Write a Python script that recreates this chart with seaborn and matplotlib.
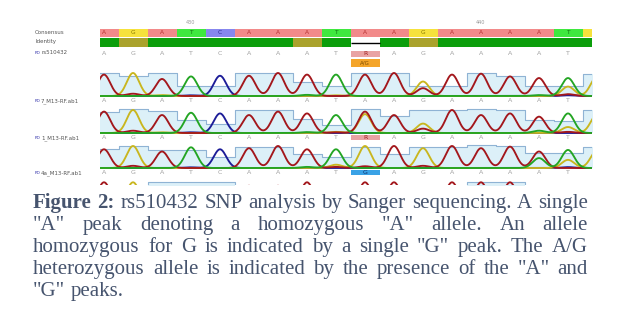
import numpy as np
import pandas as pd
import matplotlib
matplotlib.use("Agg")
import matplotlib.pyplot as plt
import seaborn as sns

# ---------------- data ----------------
consensus = list("AGATCAAATAAGAAAATG")          # 18 columns, last one only partly visible
identity = ["full", "partial", "full", "full", "full", "full", "full", "partial", "full",
            "gap", "full", "partial", "full", "full", "full", "full", "full", "full"]
ref_calls = list("AGATCAAATRAGAAAAT")            # rs510432 reference row
snp_index = 9
snp_alleles = "A/G"
ruler_pos = [3, 13]
ruler_labels = ["430", "440"]

track_names = ["7_M13-RF.ab1", "1_M13-RF.ab1", "4a_M13-RF.ab1"]
track1_calls = list("AGATCAAATAAGAAAAT")
track2_calls = list("AGATCAAATRAGAAAAT")
track3_calls = list("AGATCAAATGAGAAAAT")

# peak heights per position for each channel (A, G, T, C) and quality bars
t1_A = [0.93, 0.10, 0.74, 0.00, 0.00, 0.88, 1.00, 0.93, 0.00, 0.93, 1.00, 0.34, 0.93, 0.97, 0.85, 0.78, 0.08, 0.00]
t1_G = [0.00, 1.00, 0.04, 0.00, 0.00, 0.00, 0.00, 0.00, 0.03, 0.00, 0.00, 0.63, 0.00, 0.00, 0.00, 0.00, 0.41, 0.85]
t1_T = [0.00, 0.00, 0.00, 0.85, 0.00, 0.00, 0.00, 0.05, 0.93, 0.00, 0.00, 0.00, 0.00, 0.00, 0.00, 0.04, 0.78, 0.00]
t1_C = [0.00, 0.00, 0.00, 0.03, 0.88, 0.00, 0.00, 0.00, 0.00, 0.00, 0.00, 0.00, 0.00, 0.00, 0.00, 0.00, 0.03, 0.00]
t1_Q = [1.00, 0.88, 1.00, 0.44, 0.44, 1.00, 1.00, 0.60, 0.44, 1.00, 1.00, 0.44, 0.44, 1.00, 0.85, 0.44, 0.44, 0.95]

t2_A = [0.93, 0.10, 0.78, 0.00, 0.00, 0.78, 0.93, 0.85, 0.03, 0.93, 0.78, 0.19, 1.00, 0.78, 0.85, 0.71, 0.05, 0.00]
t2_G = [0.00, 1.00, 0.03, 0.00, 0.00, 0.00, 0.00, 0.00, 0.05, 0.82, 0.00, 0.41, 0.00, 0.00, 0.00, 0.00, 0.26, 0.80]
t2_T = [0.00, 0.00, 0.00, 0.88, 0.00, 0.00, 0.00, 0.04, 0.78, 0.00, 0.00, 0.00, 0.00, 0.00, 0.00, 0.10, 0.85, 0.00]
t2_C = [0.00, 0.00, 0.00, 0.03, 0.85, 0.00, 0.00, 0.00, 0.00, 0.00, 0.00, 0.00, 0.00, 0.00, 0.00, 0.00, 0.00, 0.00]
t2_Q = [0.90, 1.05, 0.95, 0.56, 0.41, 1.00, 1.00, 0.60, 0.35, 1.05, 0.75, 1.00, 1.00, 1.05, 1.00, 0.56, 0.50, 1.00]

t3_A = [0.85, 0.10, 0.75, 0.00, 0.00, 0.90, 1.00, 0.85, 0.05, 0.08, 1.00, 0.10, 1.00, 0.90, 0.97, 0.75, 0.00, 0.00]
t3_G = [0.00, 1.00, 0.00, 0.00, 0.00, 0.00, 0.00, 0.00, 0.15, 1.00, 0.00, 0.90, 0.00, 0.00, 0.00, 0.00, 0.37, 0.80]
t3_T = [0.00, 0.00, 0.00, 0.94, 0.00, 0.00, 0.00, 0.05, 0.85, 0.00, 0.00, 0.00, 0.00, 0.00, 0.00, 0.45, 0.82, 0.00]
t3_C = [0.00, 0.00, 0.00, 0.03, 0.85, 0.00, 0.00, 0.00, 0.00, 0.00, 0.00, 0.00, 0.00, 0.00, 0.00, 0.00, 0.04, 0.00]
t3_Q = [0.85, 1.00, 0.82, 0.82, 0.52, 0.97, 0.97, 0.63, 0.52, 0.97, 0.64, 0.97, 0.97, 1.05, 1.00, 0.67, 0.67, 0.94]

t4_A = [1.00, 0.05, 0.80, 0.00, 0.00, 0.85, 0.85, 1.00, 0.00, 1.00, 1.00, 0.10, 1.00, 1.00, 1.00, 0.80, 0.00, 0.00]
t4_G = [0.00, 1.00, 0.00, 0.00, 0.00, 0.00, 0.00, 0.00, 0.00, 0.00, 0.00, 0.80, 0.00, 0.00, 0.00, 0.00, 0.30, 0.80]
t4_T = [0.00, 0.00, 0.00, 0.80, 0.00, 0.00, 0.00, 0.00, 0.80, 0.00, 0.00, 0.00, 0.00, 0.00, 0.00, 0.00, 0.80, 0.00]
t4_C = [0.00, 0.00, 0.00, 0.00, 0.80, 0.00, 0.00, 0.00, 0.00, 0.00, 0.00, 0.00, 0.00, 0.00, 0.00, 0.00, 0.00, 0.00]
t4_Q = [0.80, 0.80, 1.00, 1.00, 1.00, 0.80, 0.80, 0.80, 0.80, 0.80, 0.80, 0.80, 0.80, 1.02, 1.02, 0.80, 0.80, 0.80]

caption_lines = [
    [("Figure", True), ("2:", True), ("rs510432", False), ("SNP", False), ("analysis", False), ("by", False),
     ("Sanger", False), ("sequencing.", False), ("A", False), ("single", False)],
    [('"A"', False), ("peak", False), ("denoting", False), ("a", False), ("homozygous", False), ('"A"', False),
     ("allele.", False), ("An", False), ("allele", False)],
    [("homozygous", False), ("for", False), ("G", False), ("is", False), ("indicated", False), ("by", False),
     ("a", False), ("single", False), ('"G"', False), ("peak.", False), ("The", False), ("A/G", False)],
    [("heterozygous", False), ("allele", False), ("is", False), ("indicated", False), ("by", False), ("the", False),
     ("presence", False), ("of", False), ("the", False), ('"A"', False), ("and", False)],
    [('"G"', False), ("peaks.", False)],
]

# ---------------- style ----------------
sns.set_theme(style="white")
plt.rcParams["font.family"] = ["DejaVu Sans"]

W, H = 625, 322
fig = plt.figure(figsize=(W / 100, H / 100), dpi=100)
fig.patch.set_facecolor("white")

XL, XR = 100, 592
def px_axes(top, bottom):
    return fig.add_axes([XL / W, 1 - bottom / H, (XR - XL) / W, (bottom - top) / H])

xlim = ((XL - 104) / 29.0, (XR - 104) / 29.0)

cons_colors = {"A": "#f28a8a", "G": "#f6e23c", "T": "#3fe83f", "C": "#8787ee"}
cons_text = {"A": "#b53030", "G": "#8a7a00", "T": "#107010", "C": "#2a2a90"}
ident_colors = {"full": "#0b9e0b", "partial": "#aaa22c", "gap": "#ffffff"}
trace_colors = {"A": "#a3171c", "G": "#c9b61e", "T": "#23a523", "C": "#1c1c98"}

# ---------------- header ----------------
hax = px_axes(14, 70)
hax.set_xlim(*xlim)
hax.set_ylim(70, 14)
hax.axis("off")
pos = np.arange(len(consensus))
hax.bar(pos, 7.5, bottom=29, width=1.0, color=[cons_colors[b] for b in consensus], linewidth=0)
for i, b in enumerate(consensus):
    if xlim[0] <= i <= xlim[1]:
        hax.text(i, 32.9, b, ha="center", va="center", fontsize=4.2, color=cons_text[b])
hax.bar(pos, 8.5, bottom=38, width=1.0, color=[ident_colors[k] for k in identity], linewidth=0)
for i, k in enumerate(identity):
    if k == "gap":
        hax.hlines(42.8, i - 0.5, i + 0.5, color="black", lw=1.0)
for p, lab in zip(ruler_pos, ruler_labels):
    hax.text(p, 22, lab, ha="center", va="center", fontsize=3.6, color="#999999")
for i, b in enumerate(ref_calls):
    if i == snp_index:
        hax.bar(i, 6.5, bottom=50.5, width=1.0, color="#e9a3a3", linewidth=0)
        hax.text(i, 53.8, b, ha="center", va="center", fontsize=4.5, color="#a02020")
        hax.bar(i, 7.5, bottom=59, width=1.0, color="#f4a52a", linewidth=0)
        hax.text(i, 62.8, snp_alleles, ha="center", va="center", fontsize=4.0, color="#7a4a00")
    else:
        hax.text(i, 53.5, b, ha="center", va="center", fontsize=4.5, color="#a0a0a0")

fig.text(35 / W, 1 - 32.5 / H, "Consensus", fontsize=4.0, color="#555555", va="center")
fig.text(35 / W, 1 - 41.5 / H, "Identity", fontsize=4.0, color="#555555", va="center")
fig.text(35 / W, 1 - 53 / H, "FD", fontsize=3.2, color="#3333aa", va="center")
fig.text(41 / W, 1 - 53 / H, "rs510432", fontsize=4.0, color="#555555", va="center")

# ---------------- chromatogram tracks ----------------
grid = np.linspace(-0.3, 17.2, 900)
sigma = 0.215

def trace_frame(channels):
    rows = []
    for ch, heights in channels.items():
        sig = np.zeros_like(grid)
        for i, h in enumerate(heights):
            sig += h * np.exp(-0.5 * ((grid - i) / sigma) ** 2)
        rows.append(pd.DataFrame({"pos": grid, "signal": sig, "channel": ch}))
    return pd.concat(rows, ignore_index=True)

tracks = [
    dict(ch={"A": t1_A, "G": t1_G, "T": t1_T, "C": t1_C}, q=t1_Q, calls=track1_calls, snp="none",
         base=96, unit=23, name=track_names[0], ylim=(-0.3, 1.08)),
    dict(ch={"A": t2_A, "G": t2_G, "T": t2_T, "C": t2_C}, q=t2_Q, calls=track2_calls, snp="R",
         base=133, unit=23, name=track_names[1], ylim=(-0.3, 1.08)),
    dict(ch={"A": t3_A, "G": t3_G, "T": t3_T, "C": t3_C}, q=t3_Q, calls=track3_calls, snp="G",
         base=168, unit=22, name=track_names[2], ylim=(-0.3, 1.08)),
    dict(ch={"A": t4_A, "G": t4_G, "T": t4_T, "C": t4_C}, q=t4_Q, calls=None, snp="none",
         base=205.3, unit=23, name=None, ylim=(0.89, 1.1)),
]

for tr in tracks:
    y0, y1 = tr["ylim"]
    top = tr["base"] - y1 * tr["unit"]
    bottom = tr["base"] - y0 * tr["unit"]
    ax = px_axes(top, bottom)
    ax.set_xlim(*xlim)
    ax.set_ylim(y0, y1)
    ax.axis("off")
    q = tr["q"]
    qx = np.arange(-1, len(q) + 1)
    qv = [q[0]] + list(q) + [q[-1]]
    ax.fill_between(qx, 0, qv, step="mid", color="#dcf0f8", lw=0, zorder=0)
    ax.step(qx, qv, where="mid", color="#8fb3d4", lw=0.8, zorder=1)
    df = trace_frame(tr["ch"])
    sns.lineplot(data=df, x="pos", y="signal", hue="channel", hue_order=["C", "G", "A", "T"],
                 palette=trace_colors, estimator=None, legend=False, linewidth=1.35, ax=ax, zorder=2)
    ax.set_xlabel("")
    ax.set_ylabel("")
    if tr["calls"] is not None:
        ly = -(4.0 / tr["unit"]) - 0.01
        for i, b in enumerate(tr["calls"]):
            if i == snp_index and tr["snp"] == "R":
                ax.bar(i, 0.24, bottom=-0.31, width=1.0, color="#e9a3a3", linewidth=0, zorder=1)
                ax.text(i, ly, b, ha="center", va="center", fontsize=4.5, color="#a02020", zorder=3)
            elif i == snp_index and tr["snp"] == "G":
                ax.bar(i, 0.24, bottom=-0.31, width=1.0, color="#3aa2e6", linewidth=0, zorder=1)
                ax.text(i, ly, b, ha="center", va="center", fontsize=4.5, color="#10306a", zorder=3)
            else:
                ax.text(i, ly, b, ha="center", va="center", fontsize=4.5, color="#a0a0a0", zorder=3)
    if tr["name"] is not None:
        ly_px = tr["base"] + 5
        fig.text(35 / W, 1 - ly_px / H, "FD", fontsize=3.2, color="#3333aa", va="center")
        fig.text(41 / W, 1 - ly_px / H, tr["name"], fontsize=4.0, color="#555555", va="center")

# ---------------- caption (justified) ----------------
cap_color = "#46546e"
cap_font = ["Liberation Serif", "DejaVu Serif"]
fs = 15.0
renderer = fig.canvas.get_renderer()

def measure(word, bold):
    t = fig.text(0, 0, word, fontsize=fs, family=cap_font, fontweight="bold" if bold else "normal")
    w = t.get_window_extent(renderer).width
    t.remove()
    return w

space_w = measure("a a", False) - measure("aa", False)
left, right = 33, 588
baselines = [208, 230, 252, 274, 296]
for li, (words, yb) in enumerate(zip(caption_lines, baselines)):
    widths = [measure(w, b) for w, b in words]
    last = li == len(caption_lines) - 1
    if last or len(words) < 2:
        gap = space_w
    else:
        gap = (right - left - sum(widths)) / (len(words) - 1)
    x = left
    for (w, b), ww in zip(words, widths):
        fig.text(x / W, 1 - yb / H, w, fontsize=fs, family=cap_font,
                 fontweight="bold" if b else "normal", color=cap_color, va="baseline", ha="left")
        x += ww + gap

fig.savefig("out.png", dpi=100, facecolor="white")
